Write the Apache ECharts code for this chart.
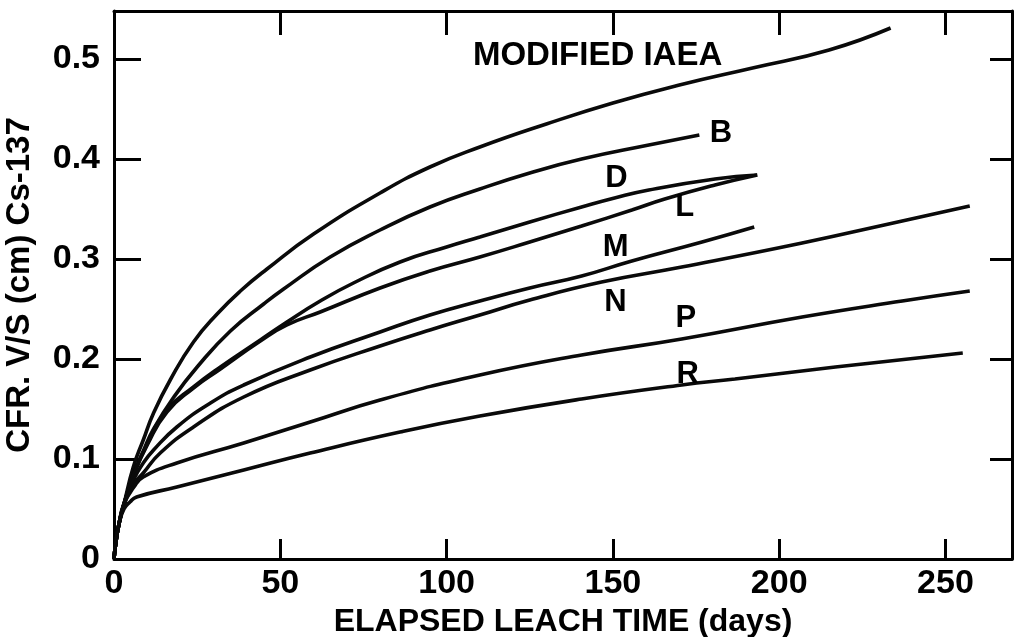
<!DOCTYPE html>
<html>
<head>
<meta charset="utf-8">
<script src="https://cdn.jsdelivr.net/npm/echarts@6/dist/echarts.min.js"></script>
<style>
html,body{margin:0;padding:0;background:#fff;}
#chart{width:1015px;height:637px;}
</style>
</head>
<body>
<div id="chart"></div>
<script>
// ---- data (days, CFR V/S in cm) ----
const iaeaDays = [0,0.5,1.5,3,5.8,8.8,11.9,16.9,23.9,31,38,46,60,80,95,110,130,150,170,192,215,233.5];
const iaeaCfr  = [0,0.015,0.035,0.055,0.092,0.119,0.146,0.179,0.217,0.245,0.268,0.29,0.325,0.366,0.392,0.412,0.435,0.456,0.474,0.491,0.509,0.531];

const bDays = [0,0.5,1.5,3,6,8.8,11.9,18,25,35,45,51,65,80,95,110,125,140.6,160.8,176];
const bCfr  = [0,0.015,0.035,0.055,0.086,0.108,0.13,0.162,0.192,0.228,0.255,0.27,0.302,0.329,0.352,0.37,0.386,0.400,0.414,0.424];

const dDays = [0,0.5,1.5,3,6,10,15.9,23.9,32,44,52,62,72,86,100,110,125,140.6,150.5,160.8,180.7,193.4];
const dCfr  = [0,0.015,0.035,0.055,0.085,0.115,0.149,0.172,0.192,0.219,0.237,0.258,0.276,0.297,0.312,0.322,0.337,0.352,0.361,0.369,0.380,0.384];

const lDays = [0,0.5,1.5,3,6,10,15.9,23.9,32,44,52,62,80,95,110,125,140.6,155.7,165.6,180.7,193.4];
const lCfr  = [0,0.015,0.035,0.055,0.085,0.114,0.147,0.171,0.19,0.218,0.234,0.247,0.271,0.288,0.302,0.317,0.333,0.349,0.360,0.374,0.384];

const mDays = [0,0.5,1.5,3,6,8.8,11.9,18.9,29,39,59,80,95,110,125,140.6,155.7,176.8,192.5];
const mCfr  = [0,0.015,0.035,0.055,0.08,0.096,0.109,0.132,0.156,0.174,0.202,0.227,0.244,0.258,0.271,0.283,0.298,0.317,0.332];

const nDays = [0,0.5,1.5,3,6,8.8,13.9,23.9,39,59,80,95,110,125,146.6,170.7,206.9,237,257.3];
const nCfr  = [0,0.015,0.035,0.055,0.075,0.086,0.106,0.132,0.162,0.189,0.213,0.229,0.244,0.259,0.277,0.292,0.316,0.338,0.353];

const pDays = [0,0.5,1.5,3,6,8.8,18.9,39,59,80,110,140.6,170.7,206.9,237,257.3];
const pCfr  = [0,0.015,0.035,0.055,0.072,0.082,0.096,0.116,0.137,0.159,0.184,0.204,0.22,0.242,0.258,0.268];

const rDays = [0,0.5,1.5,3,4.8,6.8,18.9,39,59,86,110,140.6,170.7,186.7,216.9,255.2];
const rCfr  = [0,0.015,0.035,0.05,0.057,0.062,0.072,0.089,0.106,0.127,0.143,0.16,0.174,0.18,0.192,0.206];

const seriesNames = ['MODIFIED IAEA','B','D','L','M','N','P','R'];
const seriesDays = [iaeaDays,bDays,dDays,lDays,mDays,nDays,pDays,rDays];
const seriesCfr  = [iaeaCfr,bCfr,dCfr,lCfr,mCfr,nCfr,pCfr,rCfr];

// curve labels, anchored in data units
const labelText = ['MODIFIED IAEA','B','D','L','M','N','P','R'];
const labelDays = [145.4,182.5,151.1,171.6,150.8,150.8,171.9,172.5];
const labelCfr  = [0.503,0.426,0.381,0.352,0.312,0.257,0.241,0.185];

const xTicks = [0,50,100,150,200,250];
const yTicks = [0,0.1,0.2,0.3,0.4,0.5];

const xTitle = 'ELAPSED LEACH TIME (days)';
const yTitle = 'CFR. V/S (cm) Cs-137';

// ---- chart ----
const FONT = 'Liberation Sans';
const INK = '#000';
const chart = echarts.init(document.getElementById('chart'), null, {renderer:'canvas'});

const zip = (xs, ys) => xs.map((x, i) => [x, ys[i]]);

const lineSeries = seriesNames.map((name, i) => ({
  name: name,
  type: 'line',
  data: zip(seriesDays[i], seriesCfr[i]),
  showSymbol: false,
  smooth: 0.5,
  lineStyle: {color: '#0a0a0a', width: 3.6},
  itemStyle: {color: '#0a0a0a'},
  silent: true,
  z: 3
}));

const labelSeries = {
  type: 'scatter',
  data: labelText.map((t, i) => ({name: t, value: [labelDays[i], labelCfr[i]]})),
  symbolSize: 1,
  itemStyle: {color: '#fff', opacity: 0},
  label: {
    show: true,
    position: 'inside',
    formatter: p => p.name,
    color: INK,
    opacity: 1,
    fontFamily: FONT,
    fontWeight: 'bold',
    fontSize: 31
  },
  emphasis: {disabled: true},
  silent: true,
  z: 4
};
labelSeries.data[0].label = {fontSize: 33};

const fmtX = v => (xTicks.indexOf(v) >= 0 ? String(v) : '');
const fmtY = v => {
  const r = Math.round(v * 10) / 10;
  return (Math.abs(v - r) < 1e-9 && yTicks.indexOf(r) >= 0) ? String(r) : '';
};

const lineStyleAxis = {color: INK, width: 3};

chart.setOption({
  animation: false,
  backgroundColor: '#fff',
  grid: {left: 114, right: 3, top: 11, bottom: 78, containLabel: false, outerBoundsMode: 'none'},
  xAxis: [
    {
      type: 'value', min: 0, max: 270, interval: 50, position: 'bottom',
      axisLine: {show: true, onZero: false, lineStyle: lineStyleAxis},
      axisTick: {show: true, inside: true, length: 20, lineStyle: lineStyleAxis},
      axisLabel: {show: true, formatter: fmtX, color: INK, fontFamily: FONT, fontWeight: 'bold', fontSize: 34, margin: 8, showMaxLabel: false},
      splitLine: {show: false},
      name: xTitle, nameLocation: 'middle', nameGap: 46,
      nameTextStyle: {color: INK, fontFamily: FONT, fontWeight: 'bold', fontSize: 32}
    },
    {
      type: 'value', min: 0, max: 270, interval: 50, position: 'top',
      axisLine: {show: true, onZero: false, lineStyle: lineStyleAxis},
      axisTick: {show: true, inside: true, length: 24, lineStyle: lineStyleAxis},
      axisLabel: {show: false},
      splitLine: {show: false}
    }
  ],
  yAxis: [
    {
      type: 'value', min: 0, max: 0.548, interval: 0.1, position: 'left',
      axisLine: {show: true, onZero: false, lineStyle: lineStyleAxis},
      axisTick: {show: true, inside: true, length: 27, lineStyle: lineStyleAxis},
      axisLabel: {show: true, formatter: fmtY, color: INK, fontFamily: FONT, fontWeight: 'bold', fontSize: 34, margin: 14, showMaxLabel: false},
      splitLine: {show: false},
      name: yTitle, nameLocation: 'middle', nameGap: 78, nameRotate: 90,
      nameTextStyle: {color: INK, fontFamily: FONT, fontWeight: 'bold', fontSize: 33}
    },
    {
      type: 'value', min: 0, max: 0.548, interval: 0.1, position: 'right',
      axisLine: {show: true, onZero: false, lineStyle: lineStyleAxis},
      axisTick: {show: true, inside: true, length: 22, lineStyle: lineStyleAxis},
      axisLabel: {show: false},
      splitLine: {show: false}
    }
  ],
  series: lineSeries.concat([labelSeries])
});
</script>
</body>
</html>
